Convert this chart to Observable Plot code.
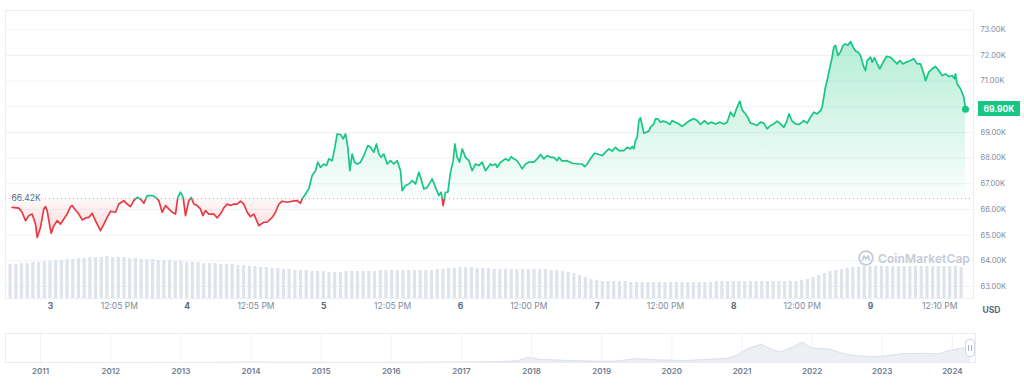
<!DOCTYPE html>
<html><head><meta charset="utf-8">
<script src="https://cdn.jsdelivr.net/npm/d3@7"></script>
<script src="https://cdn.jsdelivr.net/npm/@observablehq/plot@0.6"></script>
<style>
body{margin:0;background:#fff;font-family:Inter,"Noto Sans",sans-serif;}
#wrap{position:relative;width:1024px;height:392px;overflow:hidden;}
#wrap svg{position:absolute;left:0;}
.tag{position:absolute;left:978px;width:42px;height:15px;background:#16c784;color:#fff;font:700 8.5px Inter,sans-serif;display:flex;align-items:center;justify-content:center;border-radius:1px;}
.wm{position:absolute;left:858px;top:250px;display:flex;align-items:center;gap:4px;color:#c5cbd7;font:600 12px Inter,sans-serif;letter-spacing:0.1px;}
.handle{position:absolute;width:8px;height:16px;background:#fff;border:1px solid #cfd6e4;border-radius:4px;display:flex;align-items:center;justify-content:center;gap:1.5px;}
.handle i{display:block;width:1px;height:6px;background:#a6b0c3;}
</style></head>
<body><div id="wrap"></div>
<script>
// ---- 7-day price (hours since Apr 3 00:00, price in thousands USD) ----
const hours = [
 -6.73,-5.56,-4.98,-4.39,-3.80,-3.22,-2.63,-2.34,-1.76,-1.17,
 -0.88,-0.58,-0.29,0.12,0.59,1.17,1.76,2.34,2.93,3.51,
 3.81,4.39,4.98,5.56,6.15,6.73,7.32,7.90,8.78,9.37,
 9.95,10.54,11.42,12.00,12.88,13.46,14.05,14.63,15.22,15.81,
 16.39,16.98,17.85,18.44,19.03,19.61,20.20,20.78,21.37,21.95,
 22.36,22.83,23.30,23.71,24.29,24.70,25.17,25.76,26.34,26.75,
 27.22,27.81,28.68,29.27,29.85,30.44,31.03,31.61,32.20,32.78,
 33.37,33.95,34.54,35.12,35.71,36.59,37.47,38.05,38.93,39.51,
 40.10,40.68,41.56,42.44,43.32,43.90,44.20,44.78,45.37,45.95,
 46.54,
 46.95,47.42,48.00,48.47,48.88,49.47,49.94,50.35,50.93,51.40,
 51.81,52.22,52.57,52.98,53.39,53.86,54.44,55.03,55.73,56.20,
 56.78,57.25,57.66,58.07,58.54,59.13,59.71,60.30,60.88,61.47,
 61.76,62.35,62.93,63.52,64.10,64.69,64.98,65.56,66.15,67.03,
 67.61,68.20,68.61,68.96,69.37,69.78,70.25,70.72,71.01,71.42,
 71.83,72.30,72.88,73.47,74.05,74.64,75.22,75.81,76.39,77.27,
 77.56,78.15,78.44,79.03,79.90,80.49,80.90,81.37,81.95,82.83,
 83.42,84.00,84.88,85.47,86.05,86.64,87.22,87.81,88.39,88.98,
 89.27,89.86,90.73,91.61,92.49,93.37,93.78,94.25,94.83,95.53,
 96.30,96.88,97.47,98.05,98.64,99.22,99.81,100.69,101.27,101.86,
 102.15,102.44,102.73,103.03,103.32,103.61,
 104.19,105.07,105.36,105.95,106.24,106.65,107.12,107.59,108.17,108.76,
 109.17,109.75,110.34,110.92,111.51,112.09,112.97,113.56,114.14,114.85,
 115.43,116.02,116.78,117.54,118.24,118.83,119.41,120.00,120.47,121.05,
 121.46,122.05,122.46,122.92,123.51,124.09,124.68,125.26,125.85,126.44,
 127.02,127.61,128.19,128.78,129.36,129.66,130.24,130.83,131.41,132.00,
 132.29,132.88,133.46,134.05,134.63,135.22,135.51,136.09,136.39,
 136.69,137.27,137.56,137.86,138.27,138.73,139.20,139.61,140.02,140.49,
 140.96,141.37,141.78,142.25,142.83,143.12,143.42,144.00,144.30,144.71,
 145.17,145.64,146.23,146.81,147.52,148.10,148.69,149.15,149.74,150.32,
 151.03,151.61,152.20,152.78,153.37,153.66,154.25,154.83,155.42,156.00,
 156.59,157.17,157.76,158.34,158.75,158.93,159.22,159.81,160.39,160.69
];
const price = [
 66.08,66.05,65.89,65.56,65.76,65.82,65.43,64.91,65.30,66.02,
 66.11,65.95,65.56,65.07,65.37,65.56,65.43,65.63,65.82,66.11,
 66.15,65.98,65.82,65.59,65.67,65.69,65.85,65.56,65.17,65.43,
 65.69,65.93,65.89,66.21,66.34,66.21,66.11,66.34,66.47,66.41,
 66.24,66.54,66.54,66.47,66.34,65.89,66.15,66.02,65.89,65.82,
 66.47,66.67,66.47,65.76,66.34,66.47,66.21,66.15,66.02,65.76,
 65.95,65.82,65.82,65.67,65.82,66.06,66.21,66.15,66.21,66.21,
 66.32,66.21,65.89,65.72,65.82,65.37,65.50,65.50,65.69,65.89,
 66.21,66.32,66.28,66.32,66.34,66.24,66.41,66.60,66.80,67.32,
 67.51,
 67.84,67.64,67.77,67.71,67.97,67.90,68.42,68.94,68.92,68.75,
 68.94,68.42,67.51,68.16,67.84,67.77,67.84,68.10,68.49,68.42,
 68.23,68.55,68.16,68.03,68.16,67.77,67.90,67.77,67.90,67.51,
 66.73,66.93,66.99,67.12,66.99,67.45,67.25,66.80,66.86,67.19,
 66.86,66.54,66.67,66.15,66.67,66.67,67.45,67.90,68.55,68.03,
 67.84,68.36,68.03,67.90,67.51,67.77,67.71,67.84,67.51,67.77,
 67.71,67.77,67.64,67.84,67.97,67.90,68.06,67.97,67.90,67.58,
 67.77,67.84,67.84,67.97,68.14,67.97,68.10,68.03,68.03,67.90,
 68.03,67.88,67.90,67.80,67.77,67.77,67.67,67.77,67.97,68.19,
 68.14,68.10,68.23,68.36,68.27,68.42,68.29,68.29,68.42,68.36,
 68.45,68.36,68.68,68.81,69.46,69.57,
 68.97,69.05,69.20,69.33,69.53,69.53,69.40,69.44,69.40,69.31,
 69.46,69.40,69.33,69.24,69.33,69.44,69.53,69.46,69.31,69.46,
 69.33,69.40,69.33,69.40,69.33,69.40,69.79,69.62,69.92,70.22,
 69.88,69.72,69.59,69.36,69.33,69.27,69.40,69.36,69.14,69.27,
 69.33,69.44,69.33,69.20,69.46,69.72,69.44,69.33,69.31,69.40,
 69.46,69.36,69.59,69.79,69.72,69.85,69.98,70.76,71.02,
 71.35,71.93,72.32,72.39,72.00,72.13,72.39,72.45,72.39,72.54,
 72.32,72.17,72.13,72.00,71.54,71.41,71.80,71.93,71.74,71.91,
 71.67,71.48,71.74,71.96,71.93,71.80,71.67,71.80,71.67,71.74,
 71.80,71.87,71.67,71.67,71.28,71.02,71.35,71.48,71.57,71.41,
 71.22,71.28,71.18,71.22,71.09,71.28,70.89,70.70,70.37,69.90
];
const basePrice = 66.42;

// hourly volume (arbitrary units), starting at hour -7
const volStartHour = -7;
const volume = [
 34,34,35,35,36,36,37,37,38,38,
 39,39,40,40,41,41,41,42,41,41,
 41,40,40,39,39,39,38,38,38,37,
 37,36,36,36,35,35,35,34,34,34,
 33,33,32,32,31,31,30,30,29,29,
 28,28,28,27,27,27,26,26,26,27,
 27,27,27,27,27,28,28,28,28,28,
 28,28,28,28,28,29,29,30,30,31,
 31,31,30,30,30,29,29,29,29,29,
 29,29,29,29,29,28,28,27,26,25,
 23,21,19,18,17,17,17,17,17,16,
 16,16,16,16,16,16,16,16,16,16,
 16,16,16,16,17,17,17,17,17,17,
 17,17,17,17,17,17,17,17,17,18,
 19,21,23,25,27,28,29,30,31,31,
 32,32,32,32,32,32,32,32,32,32,
 32,32,32,32,32,32,32,31
];

const yTicks = [63,64,65,66,67,68,69,70,71,72,73];
const yLabelTicks = [63,64,65,66,67,68,69,71,72,73]; // 70.00K sits under the price tag
const dayTicks = [0,24,48,72,96,120,144];
const dayLabels = ["3","4","5","6","7","8","9"];
const timeTicks = [12.083,36.083,60.083,84,108,132,156.167];
const timeLabels = ["12:05 PM","12:05 PM","12:05 PM","12:00 PM","12:00 PM","12:00 PM","12:10 PM"];

// navigator: long-run history (year, price in thousands USD)
const navYear = [2010.55,2011.5,2012.5,2013.3,2013.92,2014.5,2015.5,2016.5,2017.0,2017.5,
 2017.8,2017.96,2018.1,2018.5,2018.95,2019.2,2019.5,2019.8,2020.2,2020.5,
 2020.8,2020.95,2021.1,2021.28,2021.45,2021.55,2021.7,2021.86,2022.0,2022.25,
 2022.45,2022.6,2022.9,2023.05,2023.3,2023.6,2023.8,2023.95,2024.1,2024.2,2024.26];
const navPrice = [0.05,0.015,0.007,0.1,1.0,0.6,0.25,0.6,1.0,2.5,
 5,17,10,6.5,3.7,4,12,8,6,9.5,
 13,25,45,58,38,34,46,64,46,42,
 28,22,18,21,28,29,27,37,44,48,50];
const navTicks = [2011,2012,2013,2014,2015,2016,2017,2018,2019,2020,2021,2022,2023,2024];

// ---------------------------------------------------------------
const GREEN = "#16c784", RED = "#ea3943";
const t0 = Date.UTC(2024,3,3);
const toDate = h => new Date(t0 + h*3600e3);
const xDomain = [toDate(-7.9), toDate(162.09)];
const data = hours.map((h,i)=>({t:toDate(h), p:price[i]}));
const last = data[data.length-1];
const wrap = document.getElementById("wrap");
const font = "Inter, 'Noto Sans', sans-serif";

const main = Plot.plot({
  width:1024, height:320, marginTop:10, marginBottom:22, marginLeft:5, marginRight:51,
  style:{background:"transparent", fontFamily:font},
  x:{type:"utc", domain:xDomain, axis:null},
  y:{domain:[62.53,73.75], axis:null},
  marks:[
    Plot.ruleY(yTicks, {stroke:"#eff2f5"}),
    Plot.frame({stroke:"#eceff3"}),
    Plot.areaY(data, {x:"t", y1:()=>basePrice, y2:"p", fill:"url(#areaGrad)"}),
    Plot.ruleY([basePrice], {stroke:"#a6b0c3", strokeDasharray:"1,3"}),
    Plot.lineY(data, {x:"t", y:"p", stroke:"url(#lineGrad)", strokeWidth:1.7}),
    Plot.dot([last], {x:"t", y:"p", r:3.5, fill:GREEN}),
    Plot.text([basePrice], {y:d=>d, frameAnchor:"left", dx:6, textAnchor:"start", text:d=>d.toFixed(2)+"K",
      fill:"#58667e", stroke:"white", strokeWidth:3, paintOrder:"stroke", fontSize:8.5}),
    Plot.text(yLabelTicks, {y:d=>d, frameAnchor:"right", dx:7, textAnchor:"start", text:d=>d.toFixed(2)+"K",
      fill:"#808a9d", fontSize:7.5}),
    Plot.text(dayTicks, {x:d=>toDate(d), frameAnchor:"bottom", dy:10, text:(d,i)=>dayLabels[i],
      fill:"#58667e", fontWeight:700, fontSize:8.5}),
    Plot.text(timeTicks, {x:d=>toDate(d), frameAnchor:"bottom", dy:10, text:(d,i)=>timeLabels[i],
      fill:"#808a9d", fontSize:8.5}),
    Plot.text(["USD"], {frameAnchor:"bottom-right", dx:18, dy:14, textAnchor:"middle", text:d=>d,
      fill:"#58667e", fontWeight:700, fontSize:8.5})
  ]
});
main.style.top = "0px";
wrap.appendChild(main);

// gradients positioned with the y scale
const ys = main.scale("y");
const by = ys.apply(basePrice);
const svgSel = d3.select(main);
const defs = svgSel.insert("defs", ":first-child");
const lg = defs.append("linearGradient").attr("id","lineGrad").attr("gradientUnits","userSpaceOnUse")
  .attr("x1",0).attr("x2",0).attr("y1",0).attr("y2",320);
lg.append("stop").attr("offset",0).attr("stop-color",GREEN);
lg.append("stop").attr("offset",by/320).attr("stop-color",GREEN);
lg.append("stop").attr("offset",by/320).attr("stop-color",RED);
lg.append("stop").attr("offset",1).attr("stop-color",RED);
const gTop = ys.apply(72.6), gBot = ys.apply(64.9);
const gOff = (by-gTop)/(gBot-gTop);
const ag = defs.append("linearGradient").attr("id","areaGrad").attr("gradientUnits","userSpaceOnUse")
  .attr("x1",0).attr("x2",0).attr("y1",gTop).attr("y2",gBot);
ag.append("stop").attr("offset",0).attr("stop-color",GREEN).attr("stop-opacity",0.32);
ag.append("stop").attr("offset",gOff).attr("stop-color",GREEN).attr("stop-opacity",0.02);
ag.append("stop").attr("offset",gOff).attr("stop-color",RED).attr("stop-opacity",0.03);
ag.append("stop").attr("offset",1).attr("stop-color",RED).attr("stop-opacity",0.20);

// volume overlay
const vol = Plot.plot({
  width:1024, height:298, marginTop:251, marginBottom:0, marginLeft:5, marginRight:51,
  style:{background:"transparent"},
  x:{type:"utc", domain:xDomain, axis:null},
  y:{domain:[0,47], axis:null},
  marks:[
    Plot.rectY(volume, {x1:(d,i)=>toDate(volStartHour+i-0.28), x2:(d,i)=>toDate(volStartHour+i+0.28), y:d=>d, fill:"#dfe3ea"})
  ]
});
vol.style.top = "0px";
vol.style.pointerEvents = "none";
wrap.appendChild(vol);

// watermark
const wm = document.createElement("div");
wm.className = "wm";
wm.innerHTML = '<svg width="16" height="16" viewBox="0 0 16 16" style="position:static"><circle cx="8" cy="8" r="6.8" fill="none" stroke="#c5cbd7" stroke-width="1.8"/><path d="M4.3 10.5 L6 5.8 L8 9 L10 5.8 L11.7 10.5" fill="none" stroke="#c5cbd7" stroke-width="1.6" stroke-linejoin="round"/></svg><span>CoinMarketCap</span>';
wrap.appendChild(wm);

// current price tag
const tag = document.createElement("div");
tag.className = "tag";
tag.style.top = (ys.apply(last.p) - 7.5) + "px";
tag.textContent = last.p.toFixed(2) + "K";
wrap.appendChild(tag);

// navigator
const navData = navYear.map((y,i)=>({y, p:navPrice[i]}));
const nav = Plot.plot({
  width:1024, height:64, marginTop:13, marginBottom:22, marginLeft:5, marginRight:49,
  style:{background:"transparent", fontFamily:font},
  x:{domain:[2010.5,2024.33], axis:null},
  y:{domain:[0,92], axis:null},
  marks:[
    Plot.ruleX(navTicks, {stroke:"#f0f2f5"}),
    Plot.areaY(navData, {x:"y", y:"p", fill:"#eceff4"}),
    Plot.lineY(navData, {x:"y", y:"p", stroke:"#dde1e8", strokeWidth:1}),
    Plot.frame({stroke:"#e8ebf0"}),
    Plot.text(navTicks, {x:d=>d, frameAnchor:"bottom", dy:11, text:d=>String(d), fill:"#6f7b90", fontWeight:600, fontSize:8})
  ]
});
nav.style.top = "320px";
wrap.appendChild(nav);

const hx = nav.scale("x").apply(navYear[navYear.length-1]);
const handle = document.createElement("div");
handle.className = "handle";
handle.style.left = (hx - 5) + "px";
handle.style.top = (320 + 13 + 14.5 - 9) + "px";
handle.innerHTML = "<i></i><i></i>";
wrap.appendChild(handle);
</script></body></html>
